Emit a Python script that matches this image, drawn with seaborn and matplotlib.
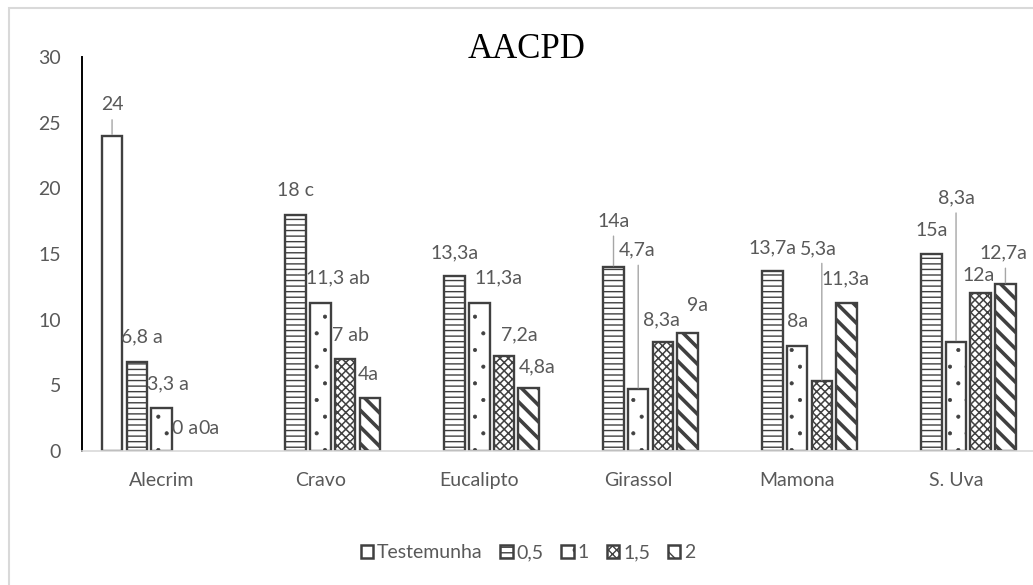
import numpy as np
import pandas as pd
import matplotlib
matplotlib.use("Agg")
import matplotlib.pyplot as plt
from matplotlib.patches import Patch, Rectangle
import seaborn as sns

# ---- data -------------------------------------------------------------
categorias = ["Alecrim", "Cravo", "Eucalipto", "Girassol", "Mamona", "S. Uva"]
doses = ["Testemunha", "0,5", "1", "1,5", "2"]

testemunha = [24, np.nan, np.nan, np.nan, np.nan, np.nan]
dose_05 = [6.8, 18, 13.3, 14, 13.7, 15]
dose_1 = [3.3, 11.3, 11.3, 4.7, 8, 8.3]
dose_15 = [0, 7, 7.2, 8.3, 5.3, 12]
dose_2 = [0, 4, 4.8, 9, 11.3, 12.7]

# letters of the mean-comparison test, appended to each value
letras_test = ["", "", "", "", "", ""]
letras_05 = [" a", " c", "a", "a", "a", "a"]
letras_1 = [" a", " ab", "a", "a", "a", "a"]
letras_15 = [" a", " ab", "a", "a", "a", "a"]
letras_2 = ["a", "a", "a", "a", "a", "a"]

valores = [testemunha, dose_05, dose_1, dose_15, dose_2]
letras = [letras_test, letras_05, letras_1, letras_15, letras_2]

rows = []
for d, serie in zip(doses, valores):
    for c, v in zip(categorias, serie):
        if not np.isnan(v):
            rows.append({"categoria": c, "dose": d, "valor": v})
df = pd.DataFrame(rows)

# ---- label placement (pixel offsets from the bar top, leader flag) ------
offsets = {
    (0, 0): (0, 31, True),
    (1, 0): (5, 25, False), (1, 1): (0, 24.6, False), (1, 2): (0, 23, False),
    (1, 3): (0, 46, True), (1, 4): (0, 23, False), (1, 5): (0, 24, False),
    (2, 0): (6.5, 23.7, False), (2, 1): (17.5, 24.6, False), (2, 2): (19.5, 24.6, False),
    (2, 3): (-1.5, 139, True), (2, 4): (0, 24, False), (2, 5): (0, 144, True),
    (3, 0): (-1, 22, False), (3, 1): (5, 24, False), (3, 2): (15, 21.4, False),
    (3, 3): (-1, 22, False), (3, 4): (-3, 133, True), (3, 5): (-2, 18, False),
    (4, 0): (-2, 22, False), (4, 1): (-1, 23.5, False), (4, 2): (8, 21, False),
    (4, 3): (10, 27, False), (4, 4): (-1, 23.6, False), (4, 5): (-2, 31, True),
}

hatches = ["", "---", ".", "xxxx", "\\\\"]
hatch_lw = [1.0, 1.0, 0.5, 1.1, 2.6]

# ---- style ------------------------------------------------------------
sns.set_style("white")
plt.rcParams["font.family"] = ["Lato", "DejaVu Sans"]
plt.rcParams["hatch.linewidth"] = 1.0
texto = "#595959"
borda = "#404040"

W, H = 1033, 585
fig = plt.figure(figsize=(W / 100, H / 100), dpi=100)
ax = fig.add_axes([82 / W, 134 / H, (1035.5 - 82) / W, 394 / H])

largura = 0.777
sns.barplot(
    data=df, x="categoria", y="valor", hue="dose",
    order=categorias, hue_order=doses,
    palette=["white"] * len(doses), saturation=1,
    edgecolor=borda, linewidth=1.7,
    width=largura, gap=0.17, errorbar=None, legend=False, ax=ax,
)

ax.set_xlim(-0.5, 5.5)
ax.set_ylim(0, 30)
ax.set_yticks(range(0, 31, 5))
ax.set_xlabel("")
ax.set_ylabel("")

slot = largura / len(doses)
for bar in ax.patches:
    cx = bar.get_x() + bar.get_width() / 2
    ci = int(round(cx))
    si = int(round((cx - ci) / slot)) + 2
    bar.set_hatch(hatches[si])
    if hasattr(bar, "set_hatch_linewidth"):
        bar.set_hatch_linewidth(hatch_lw[si])
    h = bar.get_height()
    if h == 0:
        bar.set_linewidth(0)
    rotulo = f"{h:g}".replace(".", ",") + letras[si][ci]
    dx, dy, leader = offsets[(si, ci)]
    ax.annotate(rotulo, xy=(cx, h), xytext=(dx, dy), textcoords="offset pixels",
                ha="center", va="center", fontsize=14, color=texto)
    if leader:
        ax.annotate("", xy=(cx, h), xytext=(0, dy - 15), textcoords="offset pixels",
                    arrowprops=dict(arrowstyle="-", color="#a6a6a6", lw=1.0,
                                    shrinkA=0, shrinkB=1))

# axes decoration
for s in ["top", "right"]:
    ax.spines[s].set_visible(False)
ax.spines["left"].set_color("black")
ax.spines["left"].set_linewidth(1.4)
ax.spines["bottom"].set_color("#d9d9d9")
ax.spines["bottom"].set_linewidth(1.2)
ax.tick_params(axis="y", direction="in", length=6, width=1.2, color="black",
               labelsize=14, labelcolor=texto, pad=15)
ax.tick_params(axis="x", length=0, labelsize=14, labelcolor=texto, pad=15)

# title
fig.text(527 / W, 1 - 49 / H, "AACPD", family="Liberation Serif", fontsize=25,
         ha="center", va="center", color="black")

# legend
handles = []
for i, d in enumerate(doses):
    p = Patch(facecolor="white", edgecolor=borda, linewidth=1.8, hatch=hatches[i])
    if hasattr(p, "set_hatch_linewidth"):
        p.set_hatch_linewidth(hatch_lw[i])
    handles.append(p)
fig.legend(handles, doses, loc="center", bbox_to_anchor=(528 / W, 1 - 553 / H),
           ncol=5, frameon=False, fontsize=14, labelcolor=texto,
           handlelength=0.65, handleheight=0.65, handletextpad=0.2,
           columnspacing=0.9)

# chart frame
fig.add_artist(Rectangle((9 / W, -0.1), 1.2, 1 - 8 / H + 0.1, transform=fig.transFigure,
                         fill=False, edgecolor="#d9d9d9", linewidth=1.5))

fig.savefig("out.png", dpi=100)
